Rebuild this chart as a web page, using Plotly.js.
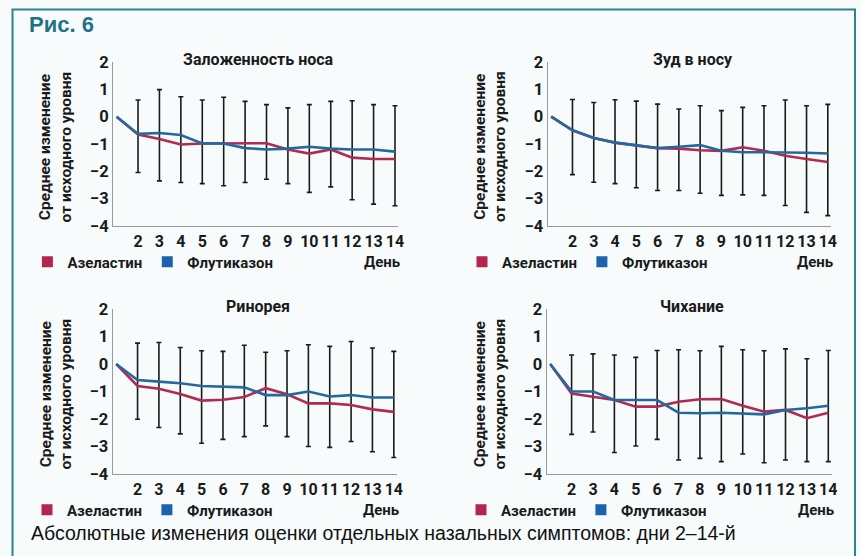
<!DOCTYPE html>
<html><head><meta charset="utf-8">
<script src="https://cdn.plot.ly/plotly-3.0.1.min.js"></script>
<style>html,body{margin:0;padding:0;background:#f7fbfc;}</style>
</head><body>
<div id="chart" style="width:861px;height:556px;"></div>
<script>
// ---- data ----
const days = [1,2,3,4,5,6,7,8,9,10,11,12,13,14];
const errDays = [2,3,4,5,6,7,8,9,10,11,12,13,14];
const tickDays = [2,3,4,5,6,7,8,9,10,11,12,13,14];
const yTicks = [-4,-3,-2,-1,0,1,2];
const seriesNames = ['Азеластин','Флутиказон'];
const panelTitles = ['Заложенность носа','Зуд в носу','Ринорея','Чихание'];

const congestionAze = [0,-0.65,-0.82,-1.02,-0.98,-0.98,-0.97,-0.97,-1.2,-1.35,-1.2,-1.5,-1.55,-1.55];
const congestionFlu = [0,-0.63,-0.6,-0.67,-0.98,-0.98,-1.15,-1.2,-1.17,-1.1,-1.17,-1.2,-1.2,-1.28];
const congestionHi = [0.61,0.99,0.73,0.61,0.71,0.56,0.44,0.32,0.44,0.56,0.58,0.44,0.40];
const congestionLo = [-2.04,-2.35,-2.41,-2.45,-2.53,-2.41,-2.29,-2.45,-2.77,-2.57,-3.04,-3.2,-3.26];

const itchAze = [0,-0.5,-0.78,-0.95,-1.05,-1.15,-1.17,-1.23,-1.25,-1.12,-1.25,-1.43,-1.55,-1.66];
const itchFlu = [0,-0.5,-0.78,-0.95,-1.05,-1.15,-1.1,-1.04,-1.25,-1.3,-1.3,-1.3,-1.32,-1.35];
const itchHi = [0.63,0.52,0.62,0.57,0.46,0.28,0.40,0.22,0.34,0.40,0.61,0.40,0.45];
const itchLo = [-2.12,-2.4,-2.45,-2.6,-2.7,-2.7,-2.8,-2.88,-2.86,-2.88,-3.25,-3.5,-3.62];

const rhinAze = [0,-0.8,-0.9,-1.09,-1.33,-1.3,-1.2,-0.88,-1.1,-1.43,-1.43,-1.49,-1.65,-1.74];
const rhinFlu = [0,-0.58,-0.64,-0.7,-0.8,-0.82,-0.85,-1.13,-1.13,-1.0,-1.18,-1.13,-1.22,-1.22];
const rhinHi = [0.76,0.78,0.6,0.48,0.46,0.68,0.43,0.48,0.7,0.64,0.82,0.58,0.46];
const rhinLo = [-2.01,-2.31,-2.54,-2.88,-2.74,-2.64,-2.25,-2.64,-3.0,-3.03,-2.82,-3.19,-3.4];

const sneezeAze = [0,-1.07,-1.19,-1.31,-1.55,-1.55,-1.37,-1.28,-1.27,-1.52,-1.73,-1.67,-1.97,-1.77];
const sneezeFlu = [0,-1.0,-1.0,-1.31,-1.31,-1.31,-1.77,-1.79,-1.77,-1.79,-1.83,-1.67,-1.61,-1.52];
const sneezeHi = [0.33,0.37,0.33,0.24,0.49,0.52,0.48,0.64,0.52,0.48,0.55,0.19,0.49];
const sneezeLo = [-2.56,-2.47,-3.22,-2.98,-2.74,-3.49,-3.43,-3.55,-3.27,-3.59,-3.49,-3.55,-3.55];

// ---- layout helpers ----
const W = 861, H = 556;
const px = v => v / W;
const py = v => 1 - v / H;
const RED = '#b02a52', BLUE = '#2468a0';
const RED_SQ = '#b5234f', BLUE_SQ = '#1c63ad';
const FONT = 'Roboto, "Liberation Sans", Arial, sans-serif';

const panels = [
  {aze: congestionAze, flu: congestionFlu, hi: congestionHi, lo: congestionLo, xd: [113.4, 398.2], yd: [62, 226]},
  {aze: itchAze, flu: itchFlu, hi: itchHi, lo: itchLo, xd: [548, 831], yd: [62, 226]},
  {aze: rhinAze, flu: rhinFlu, hi: rhinHi, lo: rhinLo, xd: [113, 397], yd: [309, 474]},
  {aze: sneezeAze, flu: sneezeFlu, hi: sneezeHi, lo: sneezeLo, xd: [547, 831.5], yd: [309, 474]}
];

const traces = [];
const layout = {
  width: W, height: H, autosize: false,
  margin: {l: 0, r: 0, t: 0, b: 0},
  paper_bgcolor: '#f7fbfc', plot_bgcolor: 'rgba(0,0,0,0)',
  showlegend: true,
  annotations: [], shapes: []
};

panels.forEach((p, i) => {
  const n = i + 1;
  const xa = n === 1 ? 'x' : 'x' + n;
  const ya = n === 1 ? 'y' : 'y' + n;
  const lg = n === 1 ? 'legend' : 'legend' + n;
  // error bars
  traces.push({
    x: errDays, y: p.lo, xaxis: xa, yaxis: ya, type: 'scatter', mode: 'markers',
    marker: {opacity: 0, size: 1}, showlegend: false, hoverinfo: 'skip',
    error_y: {type: 'data', symmetric: false,
      array: p.hi.map((h, k) => h - p.lo[k]), arrayminus: p.lo.map(() => 0),
      color: '#1a1a1a', thickness: 1.6, width: 2.5}
  });
  traces.push({x: days, y: p.aze, xaxis: xa, yaxis: ya, type: 'scatter', mode: 'lines',
    line: {color: RED, width: 2.6}, showlegend: false});
  traces.push({x: days, y: p.flu, xaxis: xa, yaxis: ya, type: 'scatter', mode: 'lines',
    line: {color: BLUE, width: 2.6}, showlegend: false});
  // legend entries (square markers)
  [RED_SQ, BLUE_SQ].forEach((c, k) => {
    traces.push({x: [null], y: [null], xaxis: xa, yaxis: ya, type: 'scatter', mode: 'markers',
      name: seriesNames[k], legend: lg, marker: {symbol: 'square', color: c, size: 11}});
  });
  const axx = n === 1 ? 'xaxis' : 'xaxis' + n;
  const axy = n === 1 ? 'yaxis' : 'yaxis' + n;
  layout[axx] = {
    domain: [px(p.xd[0]), px(p.xd[1])], anchor: ya, range: [0.85, 14.15],
    tickvals: tickDays, ticktext: tickDays.map(String), ticks: '', showgrid: false, zeroline: false,
    showline: true, linecolor: '#9a9a9a', linewidth: 1.4, fixedrange: true,
    tickfont: {family: FONT, size: 16, color: '#1a1a1a', weight: 'bold'}
  };
  layout[axy] = {
    domain: [py(p.yd[1]), py(p.yd[0])], anchor: xa, range: [-4, 2],
    tickvals: yTicks, ticks: '', showgrid: false, zeroline: false,
    showline: true, linecolor: '#9a9a9a', linewidth: 1.4, fixedrange: true,
    tickfont: {family: FONT, size: 16.5, color: '#1a1a1a', weight: 'bold'}
  };
  const cx = (p.xd[0] + p.xd[1]) / 2;
  // panel title
  layout.annotations.push({xref: 'paper', yref: 'paper', x: px(cx + 3), y: py(p.yd[0] - 3),
    text: panelTitles[i], showarrow: false, xanchor: 'center', yanchor: 'middle',
    font: {family: FONT, size: 16, color: '#1a1a1a', weight: 'bold'}});
  // y-axis title
  layout.annotations.push({xref: 'paper', yref: 'paper', x: px(p.xd[0] - 58), y: py((p.yd[0] + p.yd[1]) / 2 + 3),
    text: 'Среднее изменение<br>от исходного уровня', showarrow: false, textangle: -90,
    xanchor: 'center', yanchor: 'middle',
    font: {family: FONT, size: 15.5, color: '#1a1a1a', weight: 'bold'}});
  // "День"
  layout.annotations.push({xref: 'paper', yref: 'paper', x: px(p.xd[1] + 4), y: py(p.yd[1] + 36),
    text: 'День', showarrow: false, xanchor: 'right', yanchor: 'middle',
    font: {family: FONT, size: 15, color: '#1a1a1a', weight: 'bold'}});
  layout[lg] = {
    orientation: 'h', x: px(p.xd[0] - 86), y: py(p.yd[1] + 36), xanchor: 'left', yanchor: 'middle',
    bgcolor: 'rgba(0,0,0,0)', itemwidth: 30, tracegroupgap: 0,
    font: {family: FONT, size: 15, color: '#1a1a1a', weight: 'bold'}
  };
});

// figure label and caption
layout.annotations.push({xref: 'paper', yref: 'paper', x: px(27), y: py(25), text: 'Рис. 6',
  showarrow: false, xanchor: 'left', yanchor: 'middle',
  font: {family: '"Liberation Sans", Arial, sans-serif', size: 22, color: '#1f7386', weight: 'bold'}});
layout.annotations.push({xref: 'paper', yref: 'paper', x: px(29), y: py(533),
  text: 'Абсолютные изменения оценки отдельных назальных симптомов: дни 2–14-й',
  showarrow: false, xanchor: 'left', yanchor: 'middle',
  font: {family: '"Liberation Sans", Arial, sans-serif', size: 19.5, color: '#111111'}});

// frame
layout.shapes.push({type: 'rect', xref: 'paper', yref: 'paper', x0: px(12.5), x1: px(855), y0: py(560), y1: py(9.5),
  line: {color: '#2e828a', width: 2}, fillcolor: 'rgba(0,0,0,0)', layer: 'below'});

Plotly.newPlot('chart', traces, layout, {staticPlot: true, displayModeBar: false});
</script>
</body></html>
